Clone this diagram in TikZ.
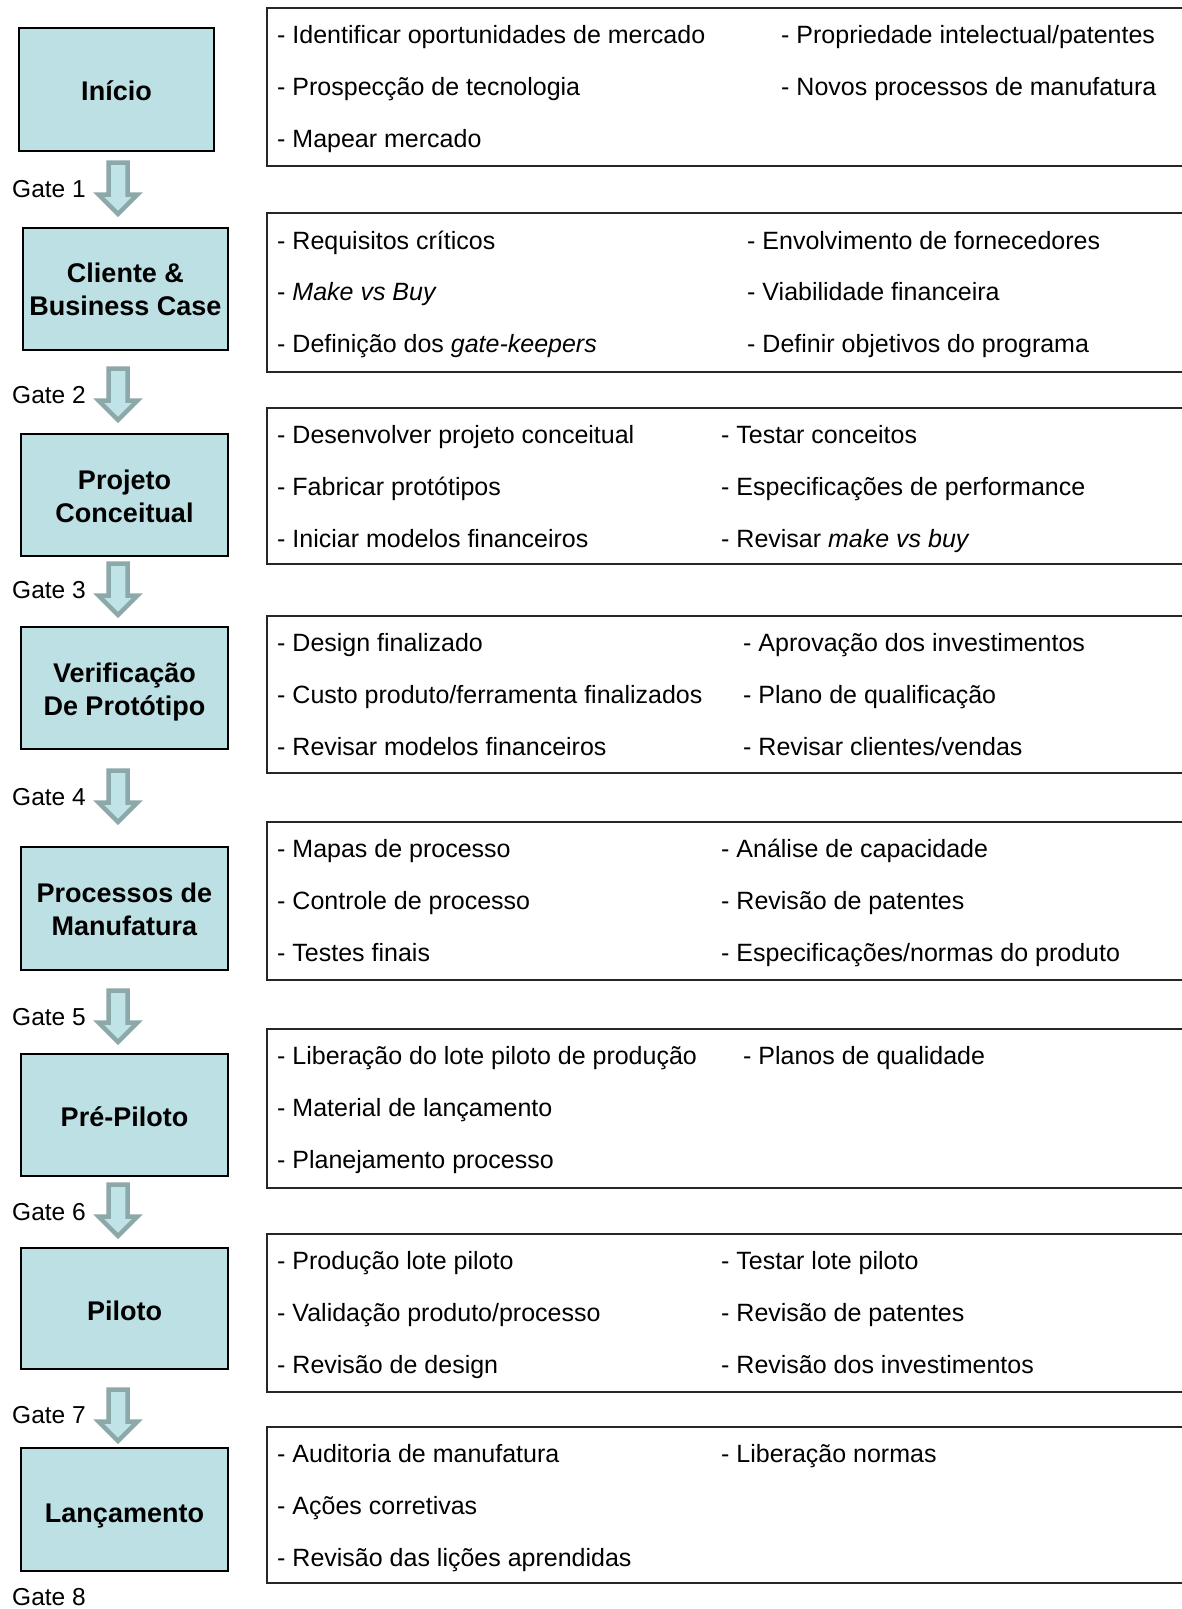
\documentclass[tikz,border=0pt]{standalone}
\usepackage{fontspec}
\setmainfont{Liberation Sans}
\definecolor{boxfill}{HTML}{BCE0E3}
\definecolor{arrfill}{HTML}{BFE3E6}
\definecolor{arrline}{HTML}{8DA8A9}
\newcommand\gatearr[1]{%
  \draw[arrline, fill=arrfill, line width=4.5pt, line join=miter]
    (108.5,{#1+2.5}) -- (127.5,{#1+2.5}) -- (127.5,{#1+34.5}) -- (137.5,{#1+34.5})
    -- (118,{#1+54}) -- (98.5,{#1+34.5}) -- (108.5,{#1+34.5}) -- cycle;}
\newcommand\rbox[2]{%
  \draw[line width=1.6pt, black!85] (1195,#1) -- (267,#1) -- (267,#2) -- (1195,#2);}
\begin{document}
\begin{tikzpicture}[x=1pt,y=-1pt,
  txt/.style={anchor=base west, inner sep=0pt, font=\fontsize{25}{30}\selectfont},
  gtxt/.style={anchor=base west, inner sep=0pt, font=\fontsize{24.5}{30}\selectfont},
  lbox/.style={draw=black, line width=1.8pt, fill=boxfill, inner sep=0pt},
  ltxt/.style={align=center, inner sep=0pt, font=\bfseries\fontsize{27}{33}\selectfont}]
\useasboundingbox (0,0) rectangle (1182,1609);
\fill[white] (0,0) rectangle (1182,1609);

% left stage boxes
\node[lbox, minimum width=195pt, minimum height=123pt] (s1) at (116.5,89.5) {};
\node[lbox, minimum width=205pt, minimum height=122pt] (s2) at (125.5,289) {};
\node[lbox, minimum width=207pt, minimum height=122pt] (s3) at (124.5,495) {};
\node[lbox, minimum width=207pt, minimum height=122pt] (s4) at (124.5,688) {};
\node[lbox, minimum width=207pt, minimum height=123pt] (s5) at (124.5,908.5) {};
\node[lbox, minimum width=207pt, minimum height=122pt] (s6) at (124.5,1115) {};
\node[lbox, minimum width=207pt, minimum height=121pt] (s7) at (124.5,1308.5) {};
\node[lbox, minimum width=207pt, minimum height=123pt] (s8) at (124.5,1509.5) {};
\node[ltxt, yshift=-1pt] (l1) at (s1) {Início};
\node[ltxt] (l2) at (s2) {Cliente \&\\Business Case};
\node[ltxt, yshift=-1pt] (l3) at (s3) {Projeto\\Conceitual};
\node[ltxt, yshift=-4.5pt] (l4) at (s4) {Verificação\\De Protótipo};
\node[ltxt, yshift=-1pt] (l5) at (s5) {Processos de\\Manufatura};
\node[ltxt, yshift=-2pt] (l6) at (s6) {Pré-Piloto};
\node[ltxt, yshift=-2pt] (l7) at (s7) {Piloto};
\node[ltxt, yshift=-6pt] (l8) at (s8) {Lançamento};

% gate arrows
\gatearr{160}
\gatearr{366}
\gatearr{561}
\gatearr{768}
\gatearr{988}
\gatearr{1182}
\gatearr{1387}

% gate labels
\node[gtxt] (g1) at (12,197) {Gate 1};
\node[gtxt] (g2) at (12,403) {Gate 2};
\node[gtxt] (g3) at (12,598) {Gate 3};
\node[gtxt] (g4) at (12,805) {Gate 4};
\node[gtxt] (g5) at (12,1025) {Gate 5};
\node[gtxt] (g6) at (12,1220) {Gate 6};
\node[gtxt] (g7) at (12,1423) {Gate 7};
\node[gtxt] (g8) at (12,1605) {Gate 8};

% right boxes
\rbox{8}{166}
\rbox{213}{372}
\rbox{408}{564}
\rbox{616}{773}
\rbox{822}{980}
\rbox{1029}{1188}
\rbox{1234}{1392}
\rbox{1427}{1583}

% R1
\node[txt] (a1) at (277,43.5) {- Identificar oportunidades de mercado};
\node[txt] (a2) at (277,95) {- Prospecção de tecnologia};
\node[txt] (a3) at (277,147) {- Mapear mercado};
\node[txt] (a4) at (781,43.5) {- Propriedade intelectual/patentes};
\node[txt] (a5) at (781,95) {- Novos processos de manufatura};
% R2
\node[txt] (b1) at (277,249) {- Requisitos críticos};
\node[txt] (b2) at (277,300) {- \textit{Make vs Buy}};
\node[txt] (b3) at (277,352) {- Definição dos \textit{gate-keepers}};
\node[txt] (b4) at (747,249) {- Envolvimento de fornecedores};
\node[txt] (b5) at (747,300) {- Viabilidade financeira};
\node[txt] (b6) at (747,352) {- Definir objetivos do programa};
% R3
\node[txt] (c1) at (277,443.5) {- Desenvolver projeto conceitual};
\node[txt] (c2) at (277,495) {- Fabricar protótipos};
\node[txt] (c3) at (277,547) {- Iniciar modelos financeiros};
\node[txt] (c4) at (721,443.5) {- Testar conceitos};
\node[txt] (c5) at (721,495) {- Especificações de performance};
\node[txt] (c6) at (721,547) {- Revisar \textit{make vs buy}};
% R4
\node[txt] (d1) at (277,651.5) {- Design finalizado};
\node[txt] (d2) at (277,703) {- Custo produto/ferramenta finalizados};
\node[txt] (d3) at (277,755) {- Revisar modelos financeiros};
\node[txt] (d4) at (743,651.5) {- Aprovação dos investimentos};
\node[txt] (d5) at (743,703) {- Plano de qualificação};
\node[txt] (d6) at (743,755) {- Revisar clientes/vendas};
% R5
\node[txt] (e1) at (277,857.5) {- Mapas de processo};
\node[txt] (e2) at (277,909) {- Controle de processo};
\node[txt] (e3) at (277,961) {- Testes finais};
\node[txt] (e4) at (721,857.5) {- Análise de capacidade};
\node[txt] (e5) at (721,909) {- Revisão de patentes};
\node[txt] (e6) at (721,961) {- Especificações/normas do produto};
% R6
\node[txt] (f1) at (277,1064.5) {- Liberação do lote piloto de produção};
\node[txt] (f2) at (277,1116) {- Material de lançamento};
\node[txt] (f3) at (277,1168) {- Planejamento processo};
\node[txt] (f4) at (743,1064.5) {- Planos de qualidade};
% R7
\node[txt] (h1) at (277,1269.5) {- Produção lote piloto};
\node[txt] (h2) at (277,1321) {- Validação produto/processo};
\node[txt] (h3) at (277,1373) {- Revisão de design};
\node[txt] (h4) at (721,1269.5) {- Testar lote piloto};
\node[txt] (h5) at (721,1321) {- Revisão de patentes};
\node[txt] (h6) at (721,1373) {- Revisão dos investimentos};
% R8
\node[txt] (k1) at (277,1462.5) {- Auditoria de manufatura};
\node[txt] (k2) at (277,1514) {- Ações corretivas};
\node[txt] (k3) at (277,1566) {- Revisão das lições aprendidas};
\node[txt] (k4) at (721,1462.5) {- Liberação normas};
\end{tikzpicture}
\end{document}
